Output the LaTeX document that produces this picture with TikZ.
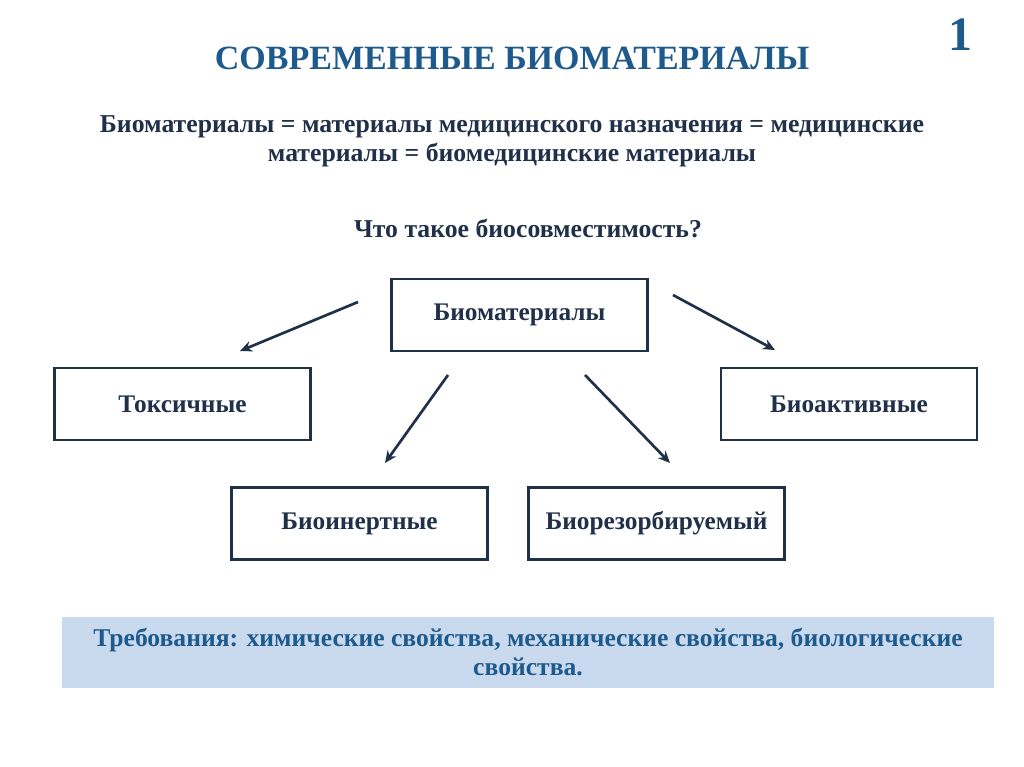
\documentclass[tikz,border=0pt]{standalone}
\usepackage{fontspec}
\setmainfont{Liberation Serif}
\usetikzlibrary{arrows.meta}
\definecolor{navy}{HTML}{1F3048}
\definecolor{titleblue}{HTML}{1F5A8C}
\definecolor{band}{HTML}{C9DAEF}
\begin{document}
\begin{tikzpicture}[x=0.75pt,y=-0.75pt,
    kind/.style={draw=navy, line width=1.6pt, minimum width=192pt, minimum height=54pt,
                 font=\fontsize{19}{22}\selectfont\bfseries, text=navy},
    link/.style={draw=navy, line width=2pt, -{Stealth[length=9pt,width=8pt]}}]
    \useasboundingbox (0,0) rectangle (1024,767);

    % titles
    \node[text=titleblue, font=\fontsize{25.5}{30}\selectfont\bfseries] (title) at (512,58) {СОВРЕМЕННЫЕ БИОМАТЕРИАЛЫ};
    \node[text=titleblue, font=\fontsize{36}{40}\selectfont\bfseries] (num) at (960,35) {1};
    \node[text=navy, align=center, font=\fontsize{19.3}{22}\selectfont\bfseries] (defn) at (512,141)
        {Биоматериалы = материалы медицинского назначения = медицинские\\ материалы = биомедицинские материалы};
    \node[text=navy, font=\fontsize{19.3}{22}\selectfont\bfseries] (quest) at (528,228) {Что такое биосовместимость?};

    % boxes
    \node[kind] (bio) at (519.5,315) {Биоматериалы};
    \node[kind] (tox) at (182.5,404) {Токсичные};
    \node[kind] (act) at (849,404) {Биоактивные};
    \node[kind] (inert) at (359.5,523.5) {Биоинертные};
    \node[kind] (resorb) at (656.5,523.5) {Биорезорбируемый};

    % arrows
    \coordinate (a1s) at (358,302); \coordinate (a1e) at (240,351);
    \coordinate (a2s) at (448,375); \coordinate (a2e) at (385,463);
    \coordinate (a3s) at (585,375); \coordinate (a3e) at (670,463);
    \coordinate (a4s) at (673,295); \coordinate (a4e) at (775,350);
    \draw[link] (a1s) -- (a1e);
    \draw[link] (a2s) -- (a2e);
    \draw[link] (a3s) -- (a3e);
    \draw[link] (a4s) -- (a4e);

    % requirements band
    \fill[band] (62,617) rectangle (994,688);
    \node[text=titleblue, align=center, font=\fontsize{19.2}{22}\selectfont\bfseries] (req) at (528,652)
        {Требования: химические свойства, механические свойства, биологические\\ свойства.};
\end{tikzpicture}
\end{document}
